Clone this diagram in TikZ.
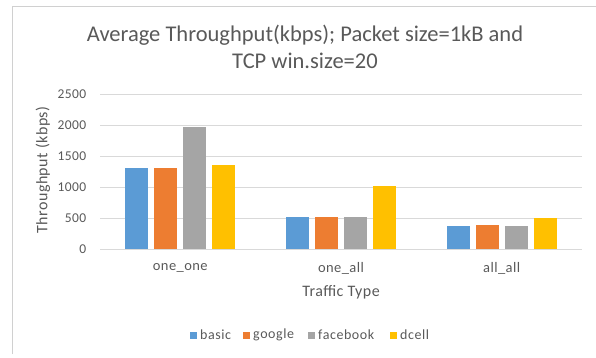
\documentclass[tikz,border=0pt]{standalone}
\usepackage{fontspec}
\setmainfont{Carlito}
\definecolor{cBasic}{HTML}{5B9BD5}
\definecolor{cGoogle}{HTML}{ED7D31}
\definecolor{cFacebook}{HTML}{A5A5A5}
\definecolor{cDcell}{HTML}{FFC000}
\definecolor{txt}{HTML}{595959}
\definecolor{grid}{HTML}{D9D9D9}
\definecolor{frame}{HTML}{D0D0D0}
\tikzset{
  ticklab/.style={anchor=east, text=txt, font=\fontsize{13.5}{14}\selectfont\addfontfeatures{LetterSpace=3}, inner sep=0pt},
  catlab/.style={text=txt, font=\fontsize{14.5}{15}\selectfont\addfontfeatures{LetterSpace=3}, inner sep=0pt},
  axtitle/.style={text=txt, font=\fontsize{16}{17}\selectfont\addfontfeatures{LetterSpace=3}, inner sep=0pt},
  legtext/.style={anchor=west, text=txt, font=\fontsize{14}{15}\selectfont\addfontfeatures{LetterSpace=4}, inner sep=0pt},
  gridline/.style={draw=grid, line width=0.9pt},
}
\begin{document}
\begin{tikzpicture}[x=1pt, y=-1pt]
\useasboundingbox (0,0) rectangle (596,357);
% chart frame
\draw[frame, line width=0.8pt] (12,354) -- (12,6) -- (600,6);
% title
\node[text=txt, font=\fontsize{22.5}{27}\selectfont, align=center, inner sep=0pt] (title) at (305,47)
  {Average Throughput(kbps); Packet size=1kB and\\TCP win.size=20};
% gridlines and tick labels
\foreach \v in {0,500,...,2500} {
  \draw[gridline] (100,{249-\v*0.062}) -- (582,{249-\v*0.062});
  \node[ticklab] (tick\v) at (86.5,{249-\v*0.062}) {\v};
}
% bars: category centre, basic, google, facebook, dcell
\foreach \c/\a/\b/\f/\d [count=\i] in {180.3/1310/1310/1970/1350, 341/520/520/520/1020, 501.7/370/390/370/500} {
  \fill[cBasic]    ({\c-55},249) rectangle ({\c-32},{249-\a*0.062});
  \fill[cGoogle]   ({\c-26},249) rectangle ({\c-3},{249-\b*0.062});
  \fill[cFacebook] ({\c+3},249) rectangle ({\c+26},{249-\f*0.062});
  \fill[cDcell]    ({\c+32},249) rectangle ({\c+55},{249-\d*0.062});
}
% category labels
\node[catlab] (c1) at (180.3,268) {one\_one};
\node[catlab] (c2) at (341,268) {one\_all};
\node[catlab] (c3) at (501.7,268) {all\_all};
% axis titles
\node[axtitle] (xt) at (341,292) {Traffic Type};
\node[axtitle, rotate=90] (yt) at (43,170) {Throughput (kbps)};
% legend
\fill[cBasic]    (190,331.5) rectangle (197,338.5);
\node[legtext] (l1) at (200,335) {basic};
\fill[cGoogle]   (243,331.5) rectangle (250,338.5);
\node[legtext] (l2) at (253,335) {google};
\fill[cFacebook] (308,331.5) rectangle (315,338.5);
\node[legtext] (l3) at (318,335) {facebook};
\fill[cDcell]    (390,331.5) rectangle (397,338.5);
\node[legtext] (l4) at (400,335) {dcell};
\end{tikzpicture}
\end{document}
